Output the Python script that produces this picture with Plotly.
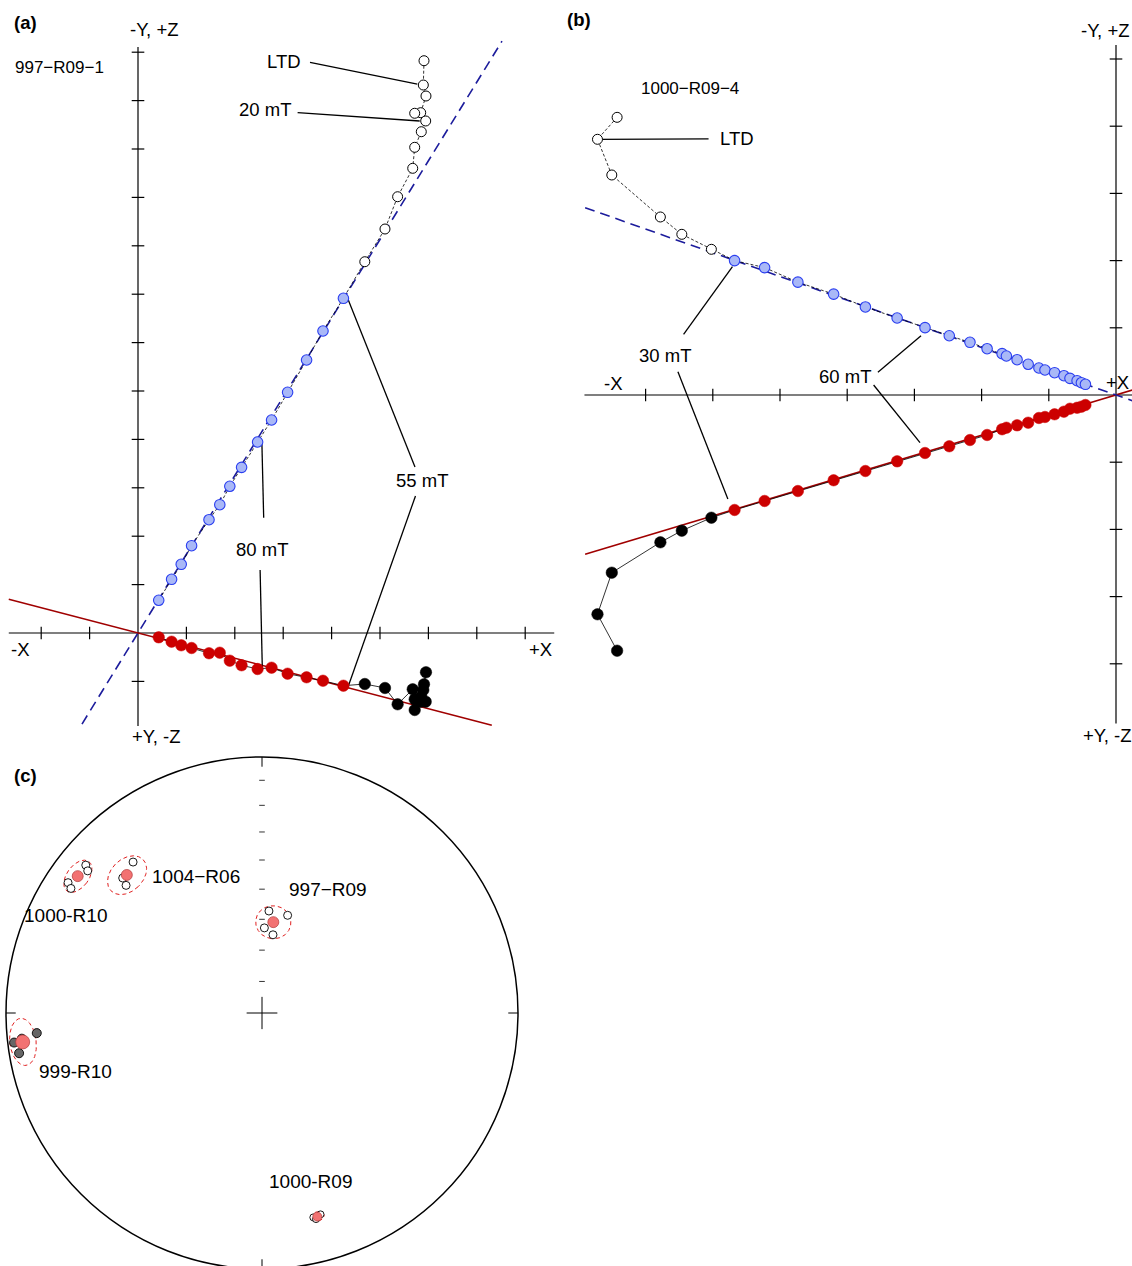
import numpy as np
import plotly.graph_objects as go

FONT = "Liberation Sans, Arial, sans-serif"
W, H = 1132, 1266

# ---------------------------------------------------------------------------
# (a) Specimen 997-R09-1, orthogonal vector plot (units = axis tick steps)
# ---------------------------------------------------------------------------
a_steps = ["NRM", "LTD", "5 mT", "10 mT", "15 mT", "20 mT", "25 mT", "30 mT",
           "35 mT", "40 mT", "45 mT", "50 mT",
           "55 mT", "60 mT", "65 mT", "70 mT", "75 mT", "80 mT", "85 mT",
           "90 mT", "95 mT", "100 mT", "105 mT", "110 mT", "115 mT", "120 mT"]
a_x = [5.909, 5.895, 5.950, 5.841, 5.717, 5.944, 5.853, 5.717, 5.676, 5.364, 5.103, 4.686,
       4.244, 3.822, 3.483, 3.091, 2.760, 2.471, 2.140, 1.897, 1.690, 1.467, 1.107, 0.893,
       0.694, 0.428]
a_horiz = [-1.060, -1.178, -0.812, -1.419, -1.370, -1.419, -1.316, -1.591, -1.163, -1.473,
           -1.136, -1.054,
           -1.089, -0.986, -0.915, -0.841, -0.717, -0.744, -0.667, -0.572, -0.407, -0.419,
           -0.310, -0.254, -0.180, -0.089]
a_vert = [11.824, 11.322, 11.095, 10.750, 10.738, 10.579, 10.357, 10.035, 9.601, 9.014,
          8.347, 7.671,
          6.915, 6.240, 5.640, 4.973, 4.401, 3.946, 3.423, 3.031, 2.651, 2.341, 1.804, 1.419,
          1.109, 0.676]
a_fit_first = "55 mT"
a_fit_h_slope, a_fit_h_span = -0.2609, (-2.67, 7.31)
a_fit_v_slope, a_fit_v_span = 1.626, (-1.157, 7.52)
a_xticks = [-2, -1, 1, 2, 3, 4, 5, 6, 7, 8]
a_yticks = [-1, 1, 2, 3, 4, 5, 6, 7, 8, 9, 10, 11, 12]
a_axis_u = (-2.67, 8.6)
a_axis_v = (-1.92, 12.11)

# ---------------------------------------------------------------------------
# (b) Specimen 1000-R09-4
# ---------------------------------------------------------------------------
b_steps = ["NRM", "LTD", "10 mT", "15 mT", "20 mT", "25 mT",
           "30 mT", "35 mT", "40 mT", "45 mT", "50 mT", "55 mT", "60 mT", "65 mT",
           "70 mT", "75 mT", "80 mT", "85 mT", "90 mT", "95 mT", "100 mT", "105 mT",
           "110 mT", "115 mT", "120 mT", "125 mT", "130 mT", "135 mT"]
b_x = [-7.424, -7.716, -7.503, -6.780, -6.461, -6.021,
       -5.676, -5.229, -4.734, -4.202, -3.729, -3.257, -2.842, -2.481, -2.173, -1.918,
       -1.695, -1.631, -1.472, -1.307, -1.147, -1.057, -0.914, -0.775, -0.685, -0.579,
       -0.515, -0.455]
b_horiz = [-3.805, -3.263, -2.644, -2.192, -2.019, -1.826,
           -1.711, -1.577, -1.429, -1.269, -1.131, -0.987, -0.863, -0.763, -0.670, -0.595,
           -0.510, -0.487, -0.451, -0.412, -0.342, -0.327, -0.287, -0.248, -0.204, -0.190,
           -0.174, -0.149]
b_vert = [4.132, 3.805, 3.274, 2.649, 2.391, 2.168,
          2.000, 1.896, 1.679, 1.501, 1.310, 1.146, 1.002, 0.882, 0.784, 0.689, 0.615,
          0.580, 0.525, 0.457, 0.402, 0.372, 0.332, 0.287, 0.248, 0.213, 0.183, 0.159]
b_fit_first = "30 mT"
b_fit_h_slope, b_fit_h_span = 0.2998, (-7.9, 0.3)
b_fit_v_slope, b_fit_v_span = -0.3528, (-7.9, 0.3)
b_xticks = [-7, -6, -5, -4, -3, -2, -1]
b_yticks = [-4, -3, -2, -1, 1, 2, 3, 4, 5]
b_axis_u = (-7.91, 0.5)
b_axis_v = (-4.89, 5.21)

# ---------------------------------------------------------------------------
# (c) Site mean directions, equal-area projection
# ---------------------------------------------------------------------------
site_names = ["1000-R10", "1004\u2212R06", "997\u2212R09", "999-R10", "1000-R09"]
site_dec = [306.6, 315.6, 7.1, 263.1, 164.8]
site_inc = [11.3, 25.5, 60.7, 6.5, 18.7]
site_a95 = [4.5, 6.0, 5.4, 5.6, 1.8]
spec_dec = [[310.0, 309.2, 303.9, 303.1],
            [319.5, 314.1, 313.2],
            [3.9, 14.7, 1.6, 8.0],
            [264.9, 263.9, 263.2, 260.6],
            [165.9, 163.8, 165.3]]
spec_inc = [[11.1, 13.2, 9.6, 11.9],
            [23.5, 25.2, 28.0],
            [57.2, 57.6, 62.8, 64.8],
            [12.7, 6.3, 2.8, 4.3],
            [18.8, 19.2, 17.9]]
spec_fill = ["white", "white", "white", "#666666", "white"]
spec_size = [8, 8, 8, 9, 7]
mean_size = [11, 11, 11, 14, 9]
label_pos = [(-0.766, 0.379), (-0.258, 0.535), (0.258, 0.484), (-0.727, -0.227),
             (0.191, -0.660)]
net_ticks_inc = [10, 20, 30, 40, 50, 60, 70, 80]


# ---------------------------------------------------------------------------
# panel frames: pixel box, origin and pixels per unit -> axis ranges
# ---------------------------------------------------------------------------
def frame(box, origin, scale):
    x0, x1, y0, y1 = box
    ox, oy = origin
    xr = [(x0 - ox) / scale, (x1 - ox) / scale]
    yr = [(oy - y1) / scale, (oy - y0) / scale]
    dom_x = [x0 / W, x1 / W]
    dom_y = [1 - y1 / H, 1 - y0 / H]
    return dom_x, xr, dom_y, yr


frames = {
    "a": frame((0, 565, 0, 752), (138, 633), 48.4),
    "b": frame((570, 1132, 0, 752), (1116, 395), 67.2),
    "c": frame((0, 565, 752, 1266), (262, 1013), 256.0),
}
scales = {"a": 48.4, "b": 67.2, "c": 256.0}
axref = {"a": ("x", "y"), "b": ("x2", "y2"), "c": ("x3", "y3")}

fig = go.Figure()


def add(trace, p):
    xa, ya = axref[p]
    trace.update(xaxis=xa, yaxis=ya, showlegend=False, hoverinfo="skip")
    fig.add_trace(trace)


def zijderveld(p, steps, x, horiz, vert, fit_first, fit_h, fit_v, xticks, yticks,
               axis_u, axis_v, leaders):
    k = steps.index(fit_first)
    sc = scales[p]
    # axes through the origin
    add(go.Scatter(x=list(axis_u), y=[0, 0], mode="lines",
                   line=dict(color="black", width=1.2)), p)
    add(go.Scatter(x=[0, 0], y=list(axis_v), mode="lines",
                   line=dict(color="black", width=1.2)), p)
    add(go.Scatter(x=xticks, y=[0] * len(xticks), mode="markers",
                   marker=dict(symbol="line-ns", size=9,
                               line=dict(color="black", width=1.2))), p)
    add(go.Scatter(x=[0] * len(yticks), y=yticks, mode="markers",
                   marker=dict(symbol="line-ew", size=9,
                               line=dict(color="black", width=1.2))), p)
    # principal component fits
    (hs, hspan), (vs, vspan) = fit_h, fit_v
    add(go.Scatter(x=list(hspan), y=[hs * u for u in hspan], mode="lines",
                   line=dict(color="#a00000", width=1.6)), p)
    add(go.Scatter(x=list(vspan), y=[vs * u for u in vspan], mode="lines",
                   line=dict(color="#1c1c9c", width=1.6, dash="10px,6px")), p)
    # demagnetisation paths
    add(go.Scatter(x=x, y=vert, mode="lines",
                   line=dict(color="black", width=0.8, dash="3px,2px")), p)
    add(go.Scatter(x=x, y=horiz, mode="lines",
                   line=dict(color="black", width=0.8)), p)
    # label leaders
    for (su, sv), step, comp, (ox, oy) in leaders:
        i = steps.index(step)
        tu = x[i] + ox / sc
        tv = (vert if comp == "v" else horiz)[i] - oy / sc
        add(go.Scatter(x=[su, tu], y=[sv, tv], mode="lines",
                       line=dict(color="black", width=1.3)), p)
    # points
    add(go.Scatter(x=x[:k], y=vert[:k], mode="markers",
                   marker=dict(size=10, color="white",
                               line=dict(color="black", width=1))), p)
    add(go.Scatter(x=x[k:], y=vert[k:], mode="markers",
                   marker=dict(size=10.5, color="#a9b8f7",
                               line=dict(color="#2a3ef0", width=1.1))), p)
    add(go.Scatter(x=x[:k], y=horiz[:k], mode="markers",
                   marker=dict(size=11.5, color="black",
                               line=dict(color="black", width=0.5))), p)
    add(go.Scatter(x=x[k:], y=horiz[k:], mode="markers",
                   marker=dict(size=11.5, color="#cc0000",
                               line=dict(color="#cc0000", width=0.5))), p)


a_leaders = [
    ((3.554, 11.791), "LTD", "v", (-6, -1)),
    ((3.298, 10.750), "20 mT", "v", (-6, 0)),
    ((5.723, 3.430), "55 mT", "v", (4.2, 0)),
    ((5.733, 2.831), "55 mT", "h", (5.3, -0.7)),
    ((2.597, 2.382), "80 mT", "v", (4.3, 1.3)),
    ((2.523, 1.302), "80 mT", "h", (4.7, -1.3)),
]
b_leaders = [
    ((-6.063, 3.810), "LTD", "v", (0, 0)),
    ((-6.435, 0.903), "30 mT", "v", (-2.1, 6)),
    ((-6.519, 0.347), "30 mT", "h", (-6.7, -11)),
    ((-3.543, 0.338), "60 mT", "v", (-4, 8)),
    ((-3.607, 0.149), "60 mT", "h", (-5, -10.3)),
]

zijderveld("a", a_steps, a_x, a_horiz, a_vert, a_fit_first,
           (a_fit_h_slope, a_fit_h_span), (a_fit_v_slope, a_fit_v_span),
           a_xticks, a_yticks, a_axis_u, a_axis_v, a_leaders)
zijderveld("b", b_steps, b_x, b_horiz, b_vert, b_fit_first,
           (b_fit_h_slope, b_fit_h_span), (b_fit_v_slope, b_fit_v_span),
           b_xticks, b_yticks, b_axis_u, b_axis_v, b_leaders)


# ---------------------------------------------------------------------------
# (c) equal-area net
# ---------------------------------------------------------------------------
def project(dec, inc):
    d = np.radians(np.asarray(dec, dtype=float))
    i = np.radians(np.abs(np.asarray(inc, dtype=float)))
    r = np.sqrt(1.0 - np.sin(i))
    return r * np.sin(d), r * np.cos(d)


def cone(dec, inc, a95, n=241):
    d, i, a = np.radians(dec), np.radians(inc), np.radians(a95)
    m = np.array([np.cos(i) * np.cos(d), np.cos(i) * np.sin(d), np.sin(i)])
    e1 = np.array([-np.sin(i) * np.cos(d), -np.sin(i) * np.sin(d), np.cos(i)])
    e2 = np.cross(m, e1)
    phi = np.linspace(0, 2 * np.pi, n)
    v = (np.cos(a) * m[:, None]
         + np.sin(a) * (np.cos(phi) * e1[:, None] + np.sin(phi) * e2[:, None]))
    return project(np.degrees(np.arctan2(v[1], v[0])), np.degrees(np.arcsin(v[2])))


fig.add_shape(type="circle", xref="x3", yref="y3", x0=-1, x1=1, y0=-1, y1=1,
              line=dict(color="black", width=1.5))
# perimeter ticks at N, E, S, W and centre cross
for dec in (0, 90, 180, 270):
    s, c = np.sin(np.radians(dec)), np.cos(np.radians(dec))
    add(go.Scatter(x=[s, 0.962 * s], y=[c, 0.962 * c], mode="lines",
                   line=dict(color="black", width=1)), "c")
add(go.Scatter(x=[-0.06, 0.06], y=[0, 0], mode="lines",
               line=dict(color="black", width=1)), "c")
add(go.Scatter(x=[0, 0], y=[-0.063, 0.063], mode="lines",
               line=dict(color="black", width=1)), "c")
tx, ty = project([0] * len(net_ticks_inc), net_ticks_inc)
add(go.Scatter(x=tx, y=ty, mode="markers",
               marker=dict(symbol="line-ew", size=4, line=dict(color="#333333", width=1))),
    "c")

for s in range(len(site_names)):
    ex, ey = cone(site_dec[s], site_inc[s], site_a95[s])
    add(go.Scatter(x=ex, y=ey, mode="lines",
                   line=dict(color="#e02020", width=1, dash="4px,3px")), "c")
    px, py = project(spec_dec[s], spec_inc[s])
    add(go.Scatter(x=px, y=py, mode="markers",
                   marker=dict(size=spec_size[s], color=spec_fill[s],
                               line=dict(color="black", width=0.9))), "c")
    mx, my = project([site_dec[s]], [site_inc[s]])
    add(go.Scatter(x=mx, y=my, mode="markers",
                   marker=dict(size=mean_size[s], color="#f27272",
                               line=dict(color="#b23a3a", width=0.7))), "c")

# ---------------------------------------------------------------------------
# text
# ---------------------------------------------------------------------------
ann = []


def text(p, u, v, s, size=18.5, bold=False, anchor="center"):
    xa, ya = axref[p]
    ann.append(dict(x=u, y=v, xref=xa, yref=ya, text=f"<b>{s}</b>" if bold else s,
                    showarrow=False, xanchor=anchor, yanchor="middle",
                    font=dict(family=FONT, size=size, color="black")))


text("a", 0.351, 12.459, "-Y, +Z")
text("a", 0.372, -2.138, "+Y, -Z")
text("a", -2.428, -0.331, "-X")
text("a", 8.320, -0.331, "+X")
text("a", -1.612, 11.674, "997\u2212R09\u22121", size=17)
text("a", 3.017, 11.798, "LTD")
text("a", 2.620, 10.806, "20 mT")
text("a", 5.868, 3.151, "55 mT")
text("a", 2.562, 1.715, "80 mT")

text("b", -0.149, 5.417, "-Y, +Z")
text("b", -0.134, -5.074, "+Y, -Z")
text("b", -7.479, 0.170, "-X")
text("b", 0.222, 0.179, "+X", anchor="right")
text("b", -6.345, 4.564, "1000\u2212R09\u22124", size=17)
text("b", -5.646, 3.810, "LTD")
text("b", -6.708, 0.585, "30 mT")
text("b", -4.027, 0.272, "60 mT")

for name, (u, v) in zip(site_names, label_pos):
    text("c", u, v, name, size=19)

for s, (px_, py_) in (("(a)", (25.5, 22)), ("(b)", (579, 20)), ("(c)", (25, 775.5))):
    ann.append(dict(x=px_ / W, y=1 - py_ / H, xref="paper", yref="paper",
                    text=f"<b>{s}</b>", showarrow=False, xanchor="center",
                    yanchor="middle", font=dict(family=FONT, size=18.5, color="black")))

layout = dict(width=W, height=H, autosize=False, margin=dict(l=0, r=0, t=0, b=0, pad=0),
              paper_bgcolor="white", plot_bgcolor="rgba(0,0,0,0)", showlegend=False,
              hovermode=False, annotations=ann)
for p, (xa, ya) in axref.items():
    dom_x, xr, dom_y, yr = frames[p]
    xkey = "xaxis" + xa[1:]
    ykey = "yaxis" + ya[1:]
    layout[xkey] = dict(domain=dom_x, range=xr, visible=False, fixedrange=True,
                        anchor=ya)
    layout[ykey] = dict(domain=dom_y, range=yr, visible=False, fixedrange=True,
                        anchor=xa)
fig.update_layout(**layout)

fig.write_html("out.html", config=dict(displayModeBar=False, staticPlot=True))
